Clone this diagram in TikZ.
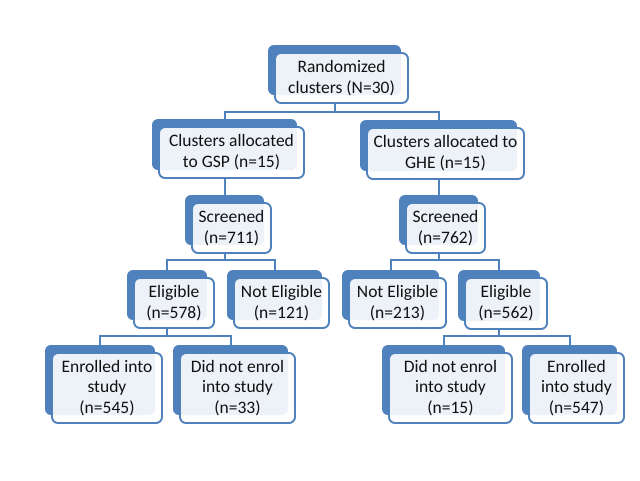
\documentclass[tikz,border=0pt]{standalone}
\usepackage{fontspec}
\setmainfont{Carlito}
\definecolor{accblue}{HTML}{4F81BD}
\definecolor{txt}{HTML}{111111}
\tikzset{
  backbox/.style={draw=none, fill=accblue, rounded corners=6pt, inner sep=0pt},
  frontbox/.style={draw=accblue, line width=1.9pt, fill=white, fill opacity=0.9, text opacity=1,
    rounded corners=6pt, inner sep=0pt, align=center, text=txt,
    font=\fontsize{17.5}{20.8}\selectfont},
  conn/.style={draw=accblue, line width=2pt}
}
\newcommand\pairbox[6]{%
  \node[backbox, minimum width=#4pt, minimum height=#5pt] (#1-b) at ({#2+#4/2},{#3+#5/2}) {};
  \node[frontbox, minimum width=#4pt, minimum height=#5pt] (#1) at ({#2+#4/2+7},{#3+#5/2+8}) {#6};
}
\begin{document}
\begin{tikzpicture}[x=1pt,y=-1pt]
\useasboundingbox[fill=white] (0,0) rectangle (640,480);
% boxes: name, left, top, width, height (back shape), text
\pairbox{rand}{268}{45}{133}{50}{Randomized\\clusters (N=30)}
\pairbox{gsp}{152}{119}{145}{51}{Clusters allocated\\to GSP (n=15)}
\pairbox{ghe}{360}{120}{157}{51}{Clusters allocated to\\GHE (n=15)}
\pairbox{scrL}{185}{195}{79}{50}{Screened\\(n=711)}
\pairbox{scrR}{399}{195}{79}{50}{Screened\\(n=762)}
\pairbox{eligL}{127}{270}{80}{50}{Eligible\\(n=578)}
\pairbox{neL}{227}{270}{95}{50}{Not Eligible\\(n=121)}
\pairbox{neR}{342}{270}{97}{50}{Not Eligible\\(n=213)}
\pairbox{eligR}{458}{270}{82}{51}{Eligible\\(n=562)}
\pairbox{enrL}{45}{345}{110}{70}{Enrolled into\\study\\(n=545)}
\pairbox{dneL}{173}{345}{115}{70}{Did not enrol\\into study\\(n=33)}
\pairbox{dneR}{382}{345}{123}{70}{Did not enrol\\into study\\(n=15)}
\pairbox{enrR}{522}{345}{95}{70}{Enrolled\\into study\\(n=547)}
% connectors
\draw[conn] (rand-b.center |- rand.south) -- (rand-b.center |- 0,112);
\draw[conn] (gsp-b.north) -- (gsp-b.north |- 0,112) -- (ghe-b.north |- 0,112) -- (ghe-b.north);
\draw[conn] (gsp-b.center |- gsp.south) -- (scrL-b.north);
\draw[conn] (ghe-b.center |- ghe.south) -- (scrR-b.north);
\draw[conn] (scrL-b.center |- scrL.south) -- (scrL-b.center |- 0,260);
\draw[conn] (eligL-b.north) -- (eligL-b.north |- 0,260) -- (neL-b.north |- 0,260) -- (neL-b.north);
\draw[conn] (scrR-b.center |- scrR.south) -- (scrR-b.center |- 0,260);
\draw[conn] (neR-b.north) -- (neR-b.north |- 0,260) -- (eligR-b.north |- 0,260) -- (eligR-b.north);
\draw[conn] (eligL-b.center |- eligL.south) -- (eligL-b.center |- 0,336);
\draw[conn] (enrL-b.north) -- (enrL-b.north |- 0,336) -- (dneL-b.north |- 0,336) -- (dneL-b.north);
\draw[conn] (eligR-b.center |- eligR.south) -- (eligR-b.center |- 0,336);
\draw[conn] (dneR-b.north) -- (dneR-b.north |- 0,336) -- (enrR-b.north |- 0,336) -- (enrR-b.north);
\end{tikzpicture}
\end{document}
